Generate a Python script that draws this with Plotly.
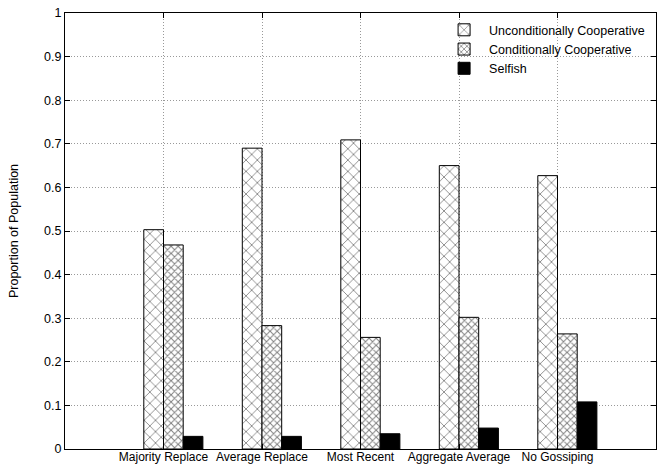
import plotly.graph_objects as go
import numpy as np

categories = ["Majority Replace", "Average Replace", "Most Recent", "Aggregate Average", "No Gossiping"]
unconditional = [0.503, 0.690, 0.709, 0.650, 0.627]
conditional = [0.468, 0.283, 0.256, 0.302, 0.264]
selfish = [0.029, 0.029, 0.035, 0.048, 0.108]
y_ticks = [0, 0.1, 0.2, 0.3, 0.4, 0.5, 0.6, 0.7, 0.8, 0.9, 1]
y_ticktext = ["0", "0.1", "0.2", "0.3", "0.4", "0.5", "0.6", "0.7", "0.8", "0.9", "1"]

pos = np.arange(1, len(categories) + 1)

fig = go.Figure()
fig.add_trace(go.Bar(
    x=pos - 0.1, y=unconditional, width=0.2, name="Unconditionally Cooperative",
    marker=dict(color="white", line=dict(color="black", width=1),
                pattern=dict(shape="x", fgcolor="black", bgcolor="white", size=8, solidity=0.2)),
))
fig.add_trace(go.Bar(
    x=pos + 0.1, y=conditional, width=0.2, name="Conditionally Cooperative",
    marker=dict(color="white", line=dict(color="black", width=1),
                pattern=dict(shape="x", fgcolor="black", bgcolor="white", size=5, solidity=0.35)),
))
fig.add_trace(go.Bar(
    x=pos + 0.3, y=selfish, width=0.2, name="Selfish",
    marker=dict(color="black", line=dict(color="black", width=1)),
))

fig.update_layout(
    width=661, height=468,
    margin=dict(l=65, r=5, t=13, b=19),
    plot_bgcolor="white", paper_bgcolor="white",
    barmode="overlay",
    font=dict(family="Liberation Sans, Arial, sans-serif", size=12.5, color="black"),
    showlegend=True,
    legend=dict(x=0.99, y=0.995, xanchor="right", yanchor="top", bgcolor="rgba(0,0,0,0)",
                font=dict(size=12.5), tracegroupgap=0, itemwidth=40),
    xaxis=dict(range=[0, 6], tickvals=list(pos), ticktext=categories,
               tickfont=dict(size=12), tickangle=0, automargin=False, ticklabelstandoff=-3,
               showgrid=True, gridcolor="#999", griddash="1px,2px", gridwidth=1,
               showline=True, linecolor="black", linewidth=1, mirror="allticks",
               ticks="inside", ticklen=5, tickcolor="black", zeroline=False),
    yaxis=dict(range=[0, 1], tickvals=y_ticks, ticktext=y_ticktext,
               tickfont=dict(size=12.5), automargin=False,
               showgrid=True, gridcolor="#999", griddash="1px,2px", gridwidth=1,
               showline=True, linecolor="black", linewidth=1, mirror="allticks",
               ticks="inside", ticklen=5, tickcolor="black", zeroline=False,
               title=dict(text="Proportion of Population", font=dict(size=12.5), standoff=22)),
)

fig.write_html("out.html")
